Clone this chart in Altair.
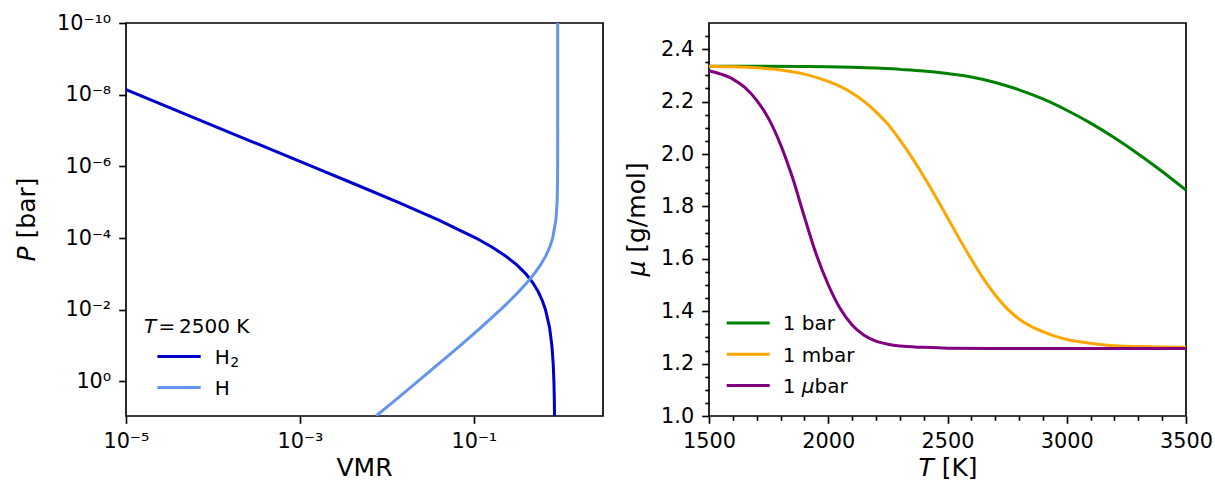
import altair as alt
import pandas as pd

# ---------------- left panel: volume mixing ratios at T = 2500 K ----------------
P_bar = [1e-10, 1e-9, 1e-8, 1e-7, 1e-6, 3.16e-6, 1e-5, 3.16e-5, 1e-4, 1.78e-4,
         3.16e-4, 5.62e-4, 1e-3, 1.78e-3, 3.16e-3, 5.62e-3, 1e-2, 3.16e-2, 0.1,
         0.316, 1.0, 3.16, 9.25]
vmr_H2 = [1.378e-7, 1.378e-6, 1.378e-5, 1.378e-4, 1.376e-3, 4.315e-3, 1.335e-2,
          3.964e-2, 0.1058, 0.1613, 0.2316, 0.3123, 0.3964, 0.4776, 0.5510, 0.6143,
          0.6669, 0.7433, 0.7903, 0.8180, 0.8340, 0.8431, 0.8480]
vmr_H = [0.9218, 0.9218, 0.9218, 0.9217, 0.9204, 0.9172, 0.9074, 0.8791, 0.8078,
         0.7479, 0.6721, 0.5852, 0.4944, 0.4069, 0.3278, 0.2595, 0.2028, 0.1204,
         0.06981, 0.03994, 0.02268, 0.01282, 0.00752]
species_left = ["H2", "H"]
species_left_base = ["H", "H"]
species_left_sub = ["2", ""]
colors_left = ["#0000cd", "#6495ed"]

# ---------------- right panel: mean molecular weight ----------------
T_1bar = [1500, 1700, 1900, 2000, 2100, 2200, 2300, 2400, 2500, 2600, 2700, 2800,
          2900, 3000, 3100, 3200, 3300, 3400, 3500]
mu_1bar = [2.335, 2.335, 2.334, 2.333, 2.331, 2.328, 2.323, 2.317, 2.307, 2.294,
           2.273, 2.245, 2.210, 2.167, 2.118, 2.062, 2.000, 1.933, 1.862]
T_1mbar = [1500, 1600, 1700, 1800, 1900, 2000, 2050, 2100, 2150, 2200, 2250, 2300,
           2350, 2400, 2450, 2500, 2550, 2600, 2650, 2700, 2750, 2800, 2850, 2900,
           2950, 3000, 3100, 3200, 3300, 3400, 3500]
mu_1mbar = [2.335, 2.333, 2.329, 2.321, 2.305, 2.277, 2.258, 2.233, 2.201, 2.161,
            2.114, 2.054, 1.988, 1.915, 1.838, 1.757, 1.676, 1.598, 1.525, 1.462,
            1.410, 1.370, 1.342, 1.322, 1.305, 1.292, 1.278, 1.268, 1.265, 1.263, 1.262]
T_1ubar = [1500, 1550, 1600, 1650, 1700, 1750, 1800, 1850, 1900, 1950, 2000, 2050,
           2100, 2150, 2200, 2250, 2300, 2400, 2500, 2700, 3000, 3500]
mu_1ubar = [2.318, 2.305, 2.286, 2.254, 2.205, 2.135, 2.036, 1.910, 1.760, 1.616,
            1.501, 1.410, 1.347, 1.308, 1.286, 1.274, 1.267, 1.262, 1.259, 1.258,
            1.258, 1.258]
series_right = ["1 bar", "1 mbar", "1 \u03bcbar"]
colors_right = ["#008000", "#ffa500", "#800080"]

# ---------------- ticks ----------------
vmr_tick_exp = [-5, -3, -1]
p_tick_exp = [-10, -8, -6, -4, -2, 0]
T_major = [1500, 2000, 2500, 3000, 3500]
T_ticks = [1500, 1600, 1700, 1800, 1900, 2000, 2100, 2200, 2300, 2400, 2500, 2600,
           2700, 2800, 2900, 3000, 3100, 3200, 3300, 3400, 3500]
mu_major = [1.0, 1.2, 1.4, 1.6, 1.8, 2.0, 2.2, 2.4]
mu_ticks = [round(1.0 + 0.05 * i, 2) for i in range(30)]

FONT = "DejaVu Sans"
TICK_FS = 20.8
TITLE_FS = 25
LEG_FS = 20
W, H = 477, 393
MAJ, MIN = 7.3, 4.2
NBSP = "\u00a0"
SPACE_W = 0.318 * TITLE_FS  # width of a space in the title font

SUP = str.maketrans("-0123456789", "\u207b\u2070\u00b9\u00b2\u00b3\u2074\u2075\u2076\u2077\u2078\u2079")


def log_label_expr(exps):
    expr = "''"
    for e in reversed(exps):
        lab = "10" + str(e).translate(SUP)
        expr = f"abs(log(datum.value)/LN10 - ({e})) < 0.01 ? '{lab}' : " + expr
    return expr


def txt(s, x, y, size, italic=False, align="left", angle=0):
    return alt.Chart(pd.DataFrame({"t": [s]})).mark_text(
        font=FONT, fontSize=size, fontStyle="italic" if italic else "normal",
        align=align, baseline="alphabetic", angle=angle, color="black"
    ).encode(x=alt.value(x), y=alt.value(y), text="t:N")


def seg(x1, x2, y, color, width, opacity=1.0):
    return alt.Chart(pd.DataFrame({"k": [0]})).mark_rule(
        color=color, strokeWidth=width, opacity=opacity
    ).encode(x=alt.value(x1), x2=alt.value(x2), y=alt.value(y), y2=alt.value(y))


# ---------------- left panel ----------------
df_left = pd.DataFrame({
    "P": P_bar * 2,
    "vmr": vmr_H2 + vmr_H,
    "species": [species_left[0]] * len(P_bar) + [species_left[1]] * len(P_bar),
})

left_lines = alt.Chart(df_left).mark_line(clip=True, strokeWidth=3).encode(
    x=alt.X("vmr:Q",
            scale=alt.Scale(type="log", domain=[1e-5, 3.06], nice=False),
            axis=alt.Axis(values=[10.0 ** e for e in vmr_tick_exp],
                          labelExpr=log_label_expr(vmr_tick_exp),
                          title=None, tickSize=MAJ)),
    y=alt.Y("P:Q",
            scale=alt.Scale(type="log", domain=[1e-10, 9.25], nice=False, reverse=True),
            axis=alt.Axis(values=[10.0 ** e for e in p_tick_exp],
                          labelExpr=log_label_expr(p_tick_exp),
                          title=None, tickSize=MAJ)),
    color=alt.Color("species:N", scale=alt.Scale(domain=species_left, range=colors_left),
                    legend=None),
    order=alt.Order("P:Q"),
)

left_layers = [
    seg(-124.3, -124.3, -21.5, "white", 0.01, opacity=0),  # bounds anchor
    left_lines,
    # y title: P [bar]
    txt("P", -90.8, 223.4, TITLE_FS, italic=True, align="right", angle=270),
    txt("[bar]", -90.8, 223.4 - SPACE_W, TITLE_FS, align="left", angle=270),
    # x title
    txt("VMR", 238.5, 453.0, TITLE_FS, align="center"),
    # legend title
    txt("T", 18, 309.5, LEG_FS, italic=True),
    txt("=", 32.5, 309.5, LEG_FS),
    txt("2500" + NBSP + "K", 53, 309.5, LEG_FS),
]
for i, (base, sub, col) in enumerate(zip(species_left_base, species_left_sub, colors_left)):
    yy = 333.5 + 31 * i
    left_layers.append(seg(31.4, 74.7, yy, col, 3))
    left_layers.append(txt(base, 88.7, yy + 7.3, LEG_FS))
    if sub:
        left_layers.append(txt(sub, 104.3, yy + 10.0, 14))

left = alt.layer(*left_layers).properties(width=W, height=H)

# ---------------- right panel ----------------
df_right = pd.DataFrame({
    "T": T_1bar + T_1mbar + T_1ubar,
    "mu": mu_1bar + mu_1mbar + mu_1ubar,
    "series": [series_right[0]] * len(T_1bar) + [series_right[1]] * len(T_1mbar)
              + [series_right[2]] * len(T_1ubar),
})

t_test = f"indexof({T_major}, datum.value) >= 0"
mu_test = "abs(datum.value*5 - round(datum.value*5)) < 1e-6"

right_lines = alt.Chart(df_right).mark_line(strokeWidth=3, interpolate="monotone").encode(
    x=alt.X("T:Q", scale=alt.Scale(domain=[1500, 3500], nice=False, zero=False),
            axis=alt.Axis(values=T_ticks, title=None,
                          labelExpr=f"{t_test} ? format(datum.value, 'd') : ''",
                          tickSize={"condition": {"test": t_test, "value": MAJ}, "value": MIN})),
    y=alt.Y("mu:Q", scale=alt.Scale(domain=[1.0, 2.5], nice=False, zero=False),
            axis=alt.Axis(values=mu_ticks, title=None,
                          labelExpr=f"{mu_test} ? format(datum.value, '.1f') : ''",
                          tickSize={"condition": {"test": mu_test, "value": MAJ}, "value": MIN})),
    color=alt.Color("series:N", scale=alt.Scale(domain=series_right, range=colors_right),
                    legend=None),
)

right_layers = [
    right_lines,
    # y title: mu [g/mol]
    txt("\u03bc", -63.8, 237.7, TITLE_FS, italic=True, align="right", angle=270),
    txt("[g/mol]", -63.8, 237.7 - SPACE_W, TITLE_FS, align="left", angle=270),
    # x title: T [K]
    txt("T", 224.7, 453.0, TITLE_FS, italic=True, align="right"),
    txt("[K]", 224.7 + SPACE_W, 453.0, TITLE_FS, align="left"),
]
for i, col in enumerate(colors_right):
    yy = 300 + 31.3 * i
    right_layers.append(seg(17.7, 60.7, yy, col, 3))
right_layers.append(txt("1" + NBSP + "bar", 73.7, 300 + 7.3, LEG_FS))
right_layers.append(txt("1" + NBSP + "mbar", 73.7, 331.3 + 7.3, LEG_FS))
right_layers.append(txt("1", 73.7, 362.6 + 7.3, LEG_FS))
right_layers.append(txt("\u03bc", 92.8, 362.6 + 7.3, LEG_FS, italic=True))
right_layers.append(txt("bar", 105.5, 362.6 + 7.3, LEG_FS))

right = alt.layer(*right_layers).properties(width=W, height=H)

chart = alt.hconcat(left, right, spacing=106, bounds="flush").resolve_scale(
    color="independent"
).properties(
    padding=0
).configure_view(
    stroke="black", strokeWidth=1.67
).configure_axis(
    labelFont=FONT, labelFontSize=TICK_FS, labelColor="black",
    tickColor="black", tickWidth=1.67, domain=False, grid=False,
    labelPadding=8, labelFlush=False, labelOverlap=False,
)

chart.save("out.html", embed_options={"renderer": "svg", "actions": False})
